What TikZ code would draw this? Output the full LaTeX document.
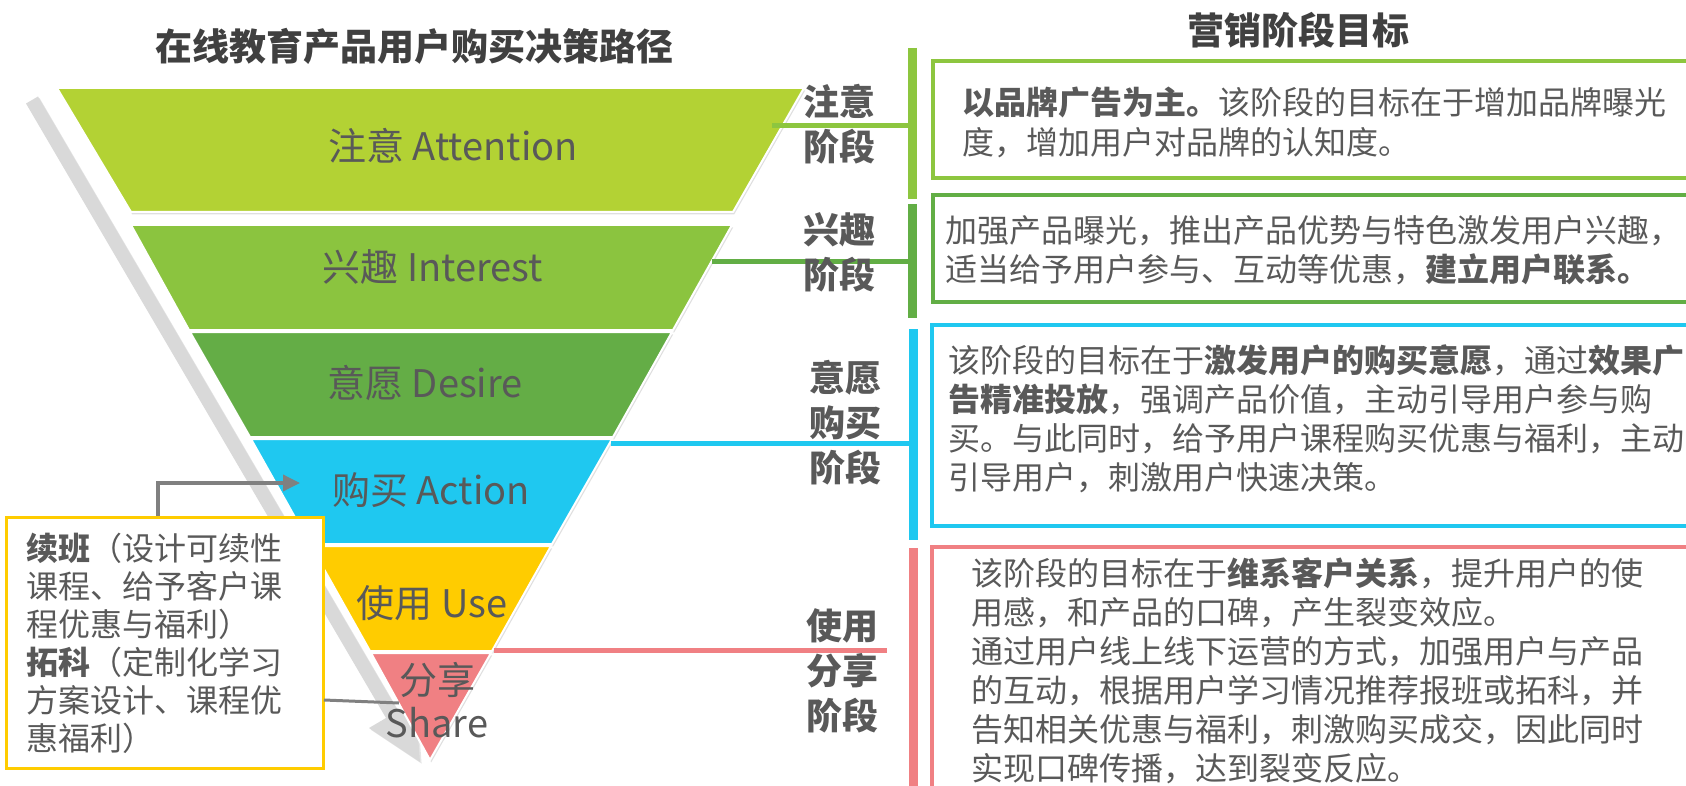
\documentclass[tikz,border=0pt]{standalone}
\usepackage{fontspec}
\setmainfont{Noto Sans CJK SC}
\usepackage{tikz}
\usetikzlibrary{arrows.meta,positioning,calc,fit,shadows}
\definecolor{txt}{HTML}{595959}
\definecolor{dark}{HTML}{404040}
\definecolor{cAtt}{HTML}{B3D234}
\definecolor{cInt}{HTML}{8BC43F}
\definecolor{cDes}{HTML}{64AD46}
\definecolor{cAct}{HTML}{1FC8F0}
\definecolor{cUse}{HTML}{FFCC00}
\definecolor{cShr}{HTML}{F08083}
\definecolor{cGa}{HTML}{8DC63F}
\definecolor{cGb}{HTML}{62AE45}
\definecolor{band}{HTML}{D9D9D9}
\definecolor{conn}{HTML}{808080}
\tikzset{
  >={Triangle[length=8.5pt,width=8pt]},
  seg/.style={draw=white,line width=1pt,drop shadow={opacity=.25,shadow xshift=.6pt,shadow yshift=-1.2pt}},
  flab/.style={font=\fontsize{19pt}{21.5pt}\selectfont,text=txt,align=center,inner sep=0pt},
  stg/.style={font=\fontsize{18pt}{22.5pt}\selectfont\bfseries,text=txt,align=center,inner sep=0pt},
  head/.style={font=\fontsize{18.5pt}{22pt}\selectfont\bfseries,text=dark,inner sep=0pt},
  btxt/.style={font=\fontsize{16pt}{19.5pt}\selectfont,text=txt,align=left,inner sep=0pt},
  bar/.style={line width=4.5pt},
  link/.style={line width=2.5pt},
  gbox/.style={line width=2pt,inner sep=0pt},
  garr/.style={->,draw=conn,line width=1.75pt},
}

\begin{document}
\begin{tikzpicture}[x=0.5pt,y=-0.5pt]
\useasboundingbox (0,0) rectangle (1686,786);
\clip (0,0) rectangle (1686,786);
% titles
\node[head,anchor=base] (tl) at (414,61) {在线教育产品用户购买决策路径};
\node[head,anchor=base] (tr) at (1298,45) {营销阶段目标};
% grey band behind the funnel
\fill[band,drop shadow={opacity=.2,shadow xshift=.8pt,shadow yshift=-.8pt}]
  (26,103.5) -- (38,96.5) -- (398,711) -- (415.5,701) -- (420,762) -- (369,728) -- (386,718) -- cycle;
% funnel
\path[seg,fill=cAtt] (57,88) -- (804,88) -- (733,212) -- (131,212) -- cycle;
\path[seg,fill=cInt] (131,225) -- (732,225) -- (673,330) -- (189,330) -- cycle;
\path[seg,fill=cDes] (190,332) -- (672,332) -- (613,437) -- (250,437) -- cycle;
\path[seg,fill=cAct] (251,439) -- (612,439) -- (552,544) -- (310,544) -- cycle;
\path[seg,fill=cUse] (311,546) -- (551,546) -- (492,651) -- (370,651) -- cycle;
\path[seg,fill=cShr] (371,653) -- (491,653) -- (430,760) -- cycle;
% bars
\coordinate (b1t) at (912,48);  \coordinate (b1b) at (912,199);
\coordinate (b2t) at (912,204); \coordinate (b2b) at (912,318);
\coordinate (b3t) at (913,329); \coordinate (b3b) at (913,540);
\coordinate (b4t) at (913,548); \coordinate (b4b) at (913,790);
% links
\coordinate (e1) at (772,126);
\coordinate (e2) at (712,262);
\coordinate (e3) at (611,443);
\coordinate (e4) at (494,650);
\coordinate (e4r) at (887,650);
\draw[link,cGa] (e1) -- (e1 -| b1t);
\draw[link,cGb] (e2) -- (e2 -| b2t);
\draw[link,cAct] (e3) -- (e3 -| b3t);
\draw[link,cShr] (e4) -- (e4r);
\draw[bar,cGa] (b1t) -- (b1b);
\draw[bar,cGb] (b2t) -- (b2b);
\draw[bar,cAct] (b3t) -- (b3b);
\draw[bar,cShr] (b4t) -- (b4b);
% funnel labels
\node[flab,anchor=base] (fAtt) at (453,161) {注意 Attention};
\node[flab,anchor=base] (fInt) at (433,282) {兴趣 Interest};
\node[flab,anchor=base] (fDes) at (425,397) {意愿 Desire};
\node[flab,anchor=base] (fAct) at (431,504) {购买 Action};
\node[flab,anchor=base] (fUse) at (432,617) {使用 Use};
\node[flab,anchor=base] (fShr) at (437,737) {分享\\Share};
% stage labels (base = last line)
\node[stg,anchor=base] (sAtt) at (839,161) {注意\\阶段};
\node[stg,anchor=base] (sInt) at (839,288) {兴趣\\阶段};
\node[stg,anchor=base] (sDes) at (845,481) {意愿\\购买\\阶段};
\node[stg,anchor=base] (sUse) at (842,729) {使用\\分享\\阶段};
% goal boxes
\node[gbox,draw=cGa,fit={(933,61) (1700,178)}] (g1) {};
\node[gbox,draw=cGb,fit={(933,195) (1700,302)}] (g2) {};
\node[gbox,draw=cAct,fit={(932,325) (1700,526)}] (g3) {};
\node[gbox,draw=cShr,fit={(932,547) (1700,800)}] (g4) {};
\node[btxt,anchor=base west,font=\fontsize{16pt}{20pt}\selectfont] (t1) at (962,155)
  {\textbf{以品牌广告为主。}该阶段的目标在于增加品牌曝光\\度，增加用户对品牌的认知度。};
\node[btxt,anchor=base west,font=\fontsize{16pt}{20pt}\selectfont] (t2) at (945,282)
  {加强产品曝光，推出产品优势与特色激发用户兴趣，\\适当给予用户参与、互动等优惠，\textbf{建立用户联系。}};
\node[btxt,anchor=base west] (t3) at (948,489)
  {该阶段的目标在于\textbf{激发用户的购买意愿}，通过\textbf{效果广}\\\textbf{告精准投放}，强调产品价值，主动引导用户参与购\\买。与此同时，给予用户课程购买优惠与福利，主动\\引导用户，刺激用户快速决策。};
\node[btxt,anchor=base west] (t4) at (971,780)
  {该阶段的目标在于\textbf{维系客户关系}，提升用户的使\\用感，和产品的口碑，产生裂变效应。\\通过用户线上线下运营的方式，加强用户与产品\\的互动，根据用户学习情况推荐报班或拓科，并\\告知相关优惠与福利，刺激购买成交，因此同时\\实现口碑传播，达到裂变反应。};
% renewal box
\node[gbox,line width=1.5pt,draw=cUse,fill=white,fit={(6,517) (323,768)}] (yb) {};
\node[btxt,anchor=base west,font=\fontsize{16pt}{19pt}\selectfont] (ytx) at (26,750)
  {\textbf{续班}（设计可续性\\课程、给予客户课\\程优惠与福利）\\\textbf{拓科}（定制化学习\\方案设计、课程优\\惠福利）};
\coordinate (yk) at (158,483);
\coordinate (atip) at (300,483);
\coordinate (yl) at (324,700);
\coordinate (ys) at (399,703);
\draw[garr] (yk |- yb.north) -- (yk) -- (atip);
\draw[draw=conn,line width=1.5pt] (yl) -- (ys);
\end{tikzpicture}
\end{document}
